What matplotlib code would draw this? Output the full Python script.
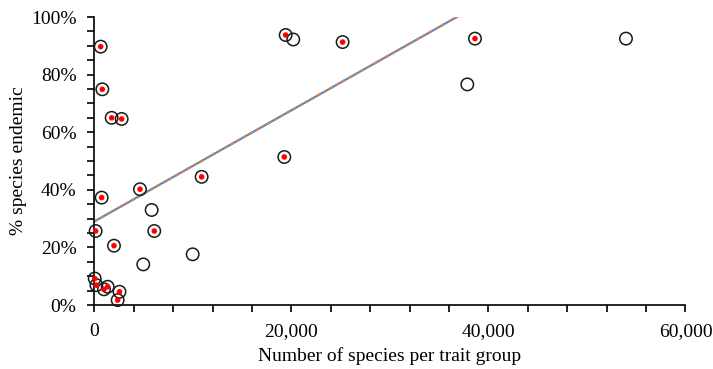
import numpy as np
import matplotlib
matplotlib.use("Agg")
import matplotlib.pyplot as plt
from matplotlib.ticker import MultipleLocator, FuncFormatter

# Trait groups flagged (red dot) and their values
flag_species = [630, 795, 1745, 2760, 730, 120, 4620, 6070, 1980, 10880,
                19410, 19270, 25190, 38630, 25, 200, 965, 1340, 2540, 2355]
flag_endemic = [0.897, 0.749, 0.650, 0.646, 0.373, 0.257, 0.402, 0.257, 0.206, 0.445,
                0.9375, 0.514, 0.913, 0.925, 0.092, 0.069, 0.0545, 0.0635, 0.046, 0.017]

# Remaining trait groups (open circle only)
other_species = [20180, 5805, 4955, 9970, 37850, 53960]
other_endemic = [0.922, 0.330, 0.141, 0.176, 0.766, 0.925]

plt.rcParams['font.family'] = ['Liberation Serif', 'DejaVu Serif']

fig = plt.figure(figsize=(7.13, 3.69), dpi=100)
ax = fig.add_axes([0.1325, 0.1734, 0.8289, 0.7805])

all_x = flag_species + other_species
all_y = flag_endemic + other_endemic

# Linear trend of the flagged groups
slope, intercept = np.polyfit(flag_species, flag_endemic, 1)
tx = np.array([0, max(flag_species)])
ax.plot(tx, intercept + slope * tx, color='#4A90D9', lw=1.6, zorder=2)
ax.plot(tx, intercept + slope * tx, color='#ED7D31', lw=1.6,
        dashes=(1.6, 1.6), zorder=2.1)

ax.scatter(all_x, all_y, s=80, facecolors='none', edgecolors='#1a1a1a',
           linewidths=1.1, zorder=3, clip_on=False)
ax.scatter(flag_species, flag_endemic, s=16, color='#FF0000', edgecolors='none',
           zorder=4, clip_on=False)

ax.set_xlim(0, 60000)
ax.set_ylim(0, 1.0)
ax.xaxis.set_major_locator(MultipleLocator(20000))
ax.xaxis.set_minor_locator(MultipleLocator(4000))
ax.yaxis.set_major_locator(MultipleLocator(0.2))
ax.yaxis.set_minor_locator(MultipleLocator(0.05))
ax.xaxis.set_major_formatter(FuncFormatter(lambda v, p: f"{int(v):,}"))
ax.yaxis.set_major_formatter(FuncFormatter(lambda v, p: f"{v*100:.0f}%"))

for side in ('top', 'right'):
    ax.spines[side].set_visible(False)
for side in ('left', 'bottom'):
    ax.spines[side].set_linewidth(1.2)

ax.tick_params(which='both', direction='out', length=5, width=1.2, color='black')
ax.tick_params(which='major', labelsize=14, pad=8)

ax.set_xlabel("Number of species per trait group", fontsize=14, labelpad=5)
ax.set_ylabel("% species endemic", fontsize=14, labelpad=3)

fig.savefig("out.png", dpi=100)
